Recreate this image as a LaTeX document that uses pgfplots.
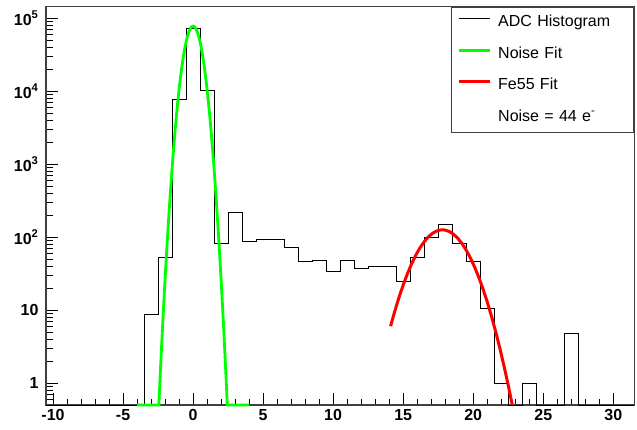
\documentclass[border=0pt]{standalone}
\usepackage{fontspec}
\setmainfont{Liberation Sans}
\usepackage{pgfplots}
\pgfplotsset{compat=1.18}
\definecolor{fitgreen}{RGB}{0,255,0}
\definecolor{fitred}{RGB}{255,0,0}

\begin{document}
\begin{tikzpicture}
\begin{axis}[
  scale only axis,
  width=588.3pt, height=398.3pt,
  ymode=log,
  xmin=-10.5, xmax=31.5,
  ymin=0.5, ymax=1.44e5,
  xtick={-10,-5,0,5,10,15,20,25,30},
  xticklabels={-10,-5,0,5,10,15,20,25,30},
  minor x tick num=4,
  ytick={1,10,100,1000,10000,100000},
  yticklabels={1,10,10\textsuperscript{2},10\textsuperscript{3},10\textsuperscript{4},10\textsuperscript{5}},
  minor ytick={0.6,0.7,0.8,0.9,2,3,4,5,6,7,8,9,20,30,40,50,60,70,80,90,
               200,300,400,500,600,700,800,900,2000,3000,4000,5000,6000,7000,8000,9000,
               20000,30000,40000,50000,60000,70000,80000,90000},
  tick pos=left,
  tick align=inside,
  major tick length=12pt,
  minor tick length=6.5pt,
  tick style={black, line width=0.8pt},
  axis line style={black!75, line width=1.2pt},
  ticklabel style={font=\fontsize{16}{19}\selectfont\bfseries},
  yticklabel style={xshift=-4pt},
  xticklabel style={yshift=-1pt},
  clip=false,
  legend cell align=left,
  legend image code/.code={\draw[#1] plot coordinates {(0pt,4pt)(31pt,4pt)};},
  legend style={at={(1,1)}, anchor=north east, draw=black!75, line width=1pt,
    fill=white, font=\fontsize{16}{19}\selectfont,
    inner xsep=5.6pt, inner ysep=5.5pt, row sep=11.5pt, column sep=5pt,
    nodes={inner xsep=2pt, inner ysep=2pt, text height=12pt, text depth=4pt},
    /tikz/column 2/.style={nodes={text width=128pt}}},
]
% ADC histogram, value at the left edge of each 1-wide bin
\addplot[const plot, black, line width=0.9pt] coordinates {
  (-10.5,0.5) (-3.5,8.7) (-2.5,52.5) (-1.5,7770) (-0.5,72900) (0.5,10400)
  (1.5,82.8) (2.5,219) (3.5,86) (4.5,94) (5.5,94) (6.5,73) (7.5,46.3)
  (8.5,48.4) (9.5,33.8) (10.5,48.4) (11.5,37.6) (12.5,39.6) (13.5,39.6)
  (14.5,25) (15.5,52.5) (16.5,98.8) (17.5,149) (18.5,82.8) (19.5,46.3)
  (20.5,10.6) (21.5,1) (22.5,0.5) (23.5,1) (24.5,0.5) (26.5,4.84)
  (27.5,0.5) (31.5,0.5)
};
\addlegendentry{ADC Histogram}

\addplot[fitgreen, line width=2.8pt] coordinates {
  (-4,0.5) (-2.44,0.5) (-2.4,0.775) (-2.3,1.98) (-2.2,4.88) (-2.1,11.53)
  (-2.0,26.2) (-1.9,57.1) (-1.8,119.7) (-1.7,240.9) (-1.6,466.1)
  (-1.5,866.5) (-1.4,1548) (-1.3,2656) (-1.2,4378) (-1.1,6936)
  (-1.0,10556) (-0.9,15436) (-0.8,21684) (-0.7,29274) (-0.6,37970)
  (-0.5,47309) (-0.4,56639) (-0.3,65153) (-0.2,72004) (-0.1,76456)
  (0,78000)
  (0.1,76456) (0.2,72004) (0.3,65153) (0.4,56639) (0.5,47309)
  (0.6,37970) (0.7,29274) (0.8,21684) (0.9,15436) (1.0,10556)
  (1.1,6936) (1.2,4378) (1.3,2656) (1.4,1548) (1.5,866.5) (1.6,466.1)
  (1.7,240.9) (1.8,119.7) (1.9,57.1) (2.0,26.2) (2.1,11.53) (2.2,4.88)
  (2.3,1.98) (2.4,0.775) (2.44,0.5) (4,0.5)
};
\addlegendentry{Noise Fit}

\addplot[fitred, line width=3pt] coordinates {
  (14.1,6.02) (14.4,9.65) (14.7,14.89) (15.0,22.07) (15.3,31.42)
  (15.6,42.98) (15.9,56.49) (16.2,71.33) (16.5,86.54) (16.8,100.9)
  (17.1,113.0) (17.4,121.6) (17.7,125.7) (17.8,126) (18.0,124.9)
  (18.3,119.2) (18.6,109.3) (18.9,96.3) (19.2,81.5) (19.5,66.3)
  (19.8,51.8) (20.1,38.9) (20.4,28.05) (20.7,19.44) (21.0,12.95)
  (21.3,8.28) (21.6,5.09) (21.9,3.01) (22.2,1.706) (22.5,0.930)
  (22.79,0.5)
};
\addlegendentry{Fe55 Fit}

\addlegendimage{empty legend}
\addlegendentry{Noise = 44 e\textsuperscript{-}}

% page margins around the frame
\path (rel axis cs:0,0) ++(-46pt,-25pt);
\path (rel axis cs:1,1) ++(2.7pt,6.7pt);
\end{axis}
\end{tikzpicture}
\end{document}
